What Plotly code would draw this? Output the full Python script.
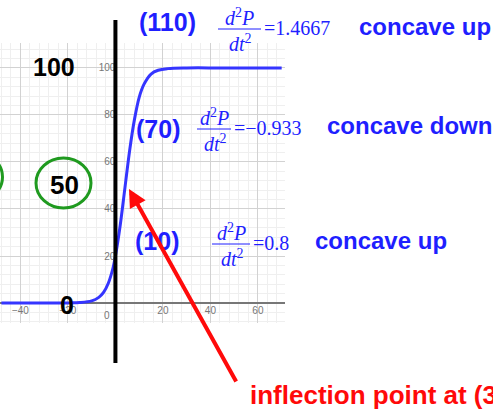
import plotly.graph_objects as go

# Logistic population curve P(t), values read at sample times
t_days = [-48, -30, -20, -15, -10, -7, -5, -3, -1, 0, 2, 4, 6, 8, 10, 12, 15, 18, 22, 30, 45, 70]
population = [0, 0, 0.05, 0.2, 0.9, 2.4, 4.5, 8.4, 15, 20, 33, 49, 65, 78, 87.5, 93, 97.4, 99, 99.7, 100, 100, 100]

x_ticks = [-40, -20, 20, 40, 60]
y_ticks = [20, 40, 60, 80, 100]

# P values examined and their second derivatives
p_levels = ["(110)", "(70)", "(10)"]
second_deriv = ["1.4667", "\u22120.933", "0.8"]
concavity = ["concave up", "concave down", "concave up"]

X_RANGE = [-48.6, 71.4]
Y_RANGE = [-8.5, 110.6]

W, H = 493, 413
L, R, T, B = 0, 285, 43, 323

BLUE = "#1f1fff"
CURVE = "#3535ff"
RED = "#ff0a0a"
GREEN = "#1f9a1f"


def paper(x, y):
    """Figure pixel position -> paper coordinates."""
    return (x - L) / (R - L), (B - y) / (B - T)


fig = go.Figure()
fig.add_trace(go.Scatter(
    x=t_days, y=population, mode="lines", line_shape="spline",
    line=dict(color=CURVE, width=3), hoverinfo="skip", showlegend=False,
))

x0_paper = (0 - X_RANGE[0]) / (X_RANGE[1] - X_RANGE[0])
y0_paper = (0 - Y_RANGE[0]) / (Y_RANGE[1] - Y_RANGE[0])

fig.update_layout(
    width=W, height=H,
    margin=dict(l=L, r=W - R, t=T, b=H - B, pad=0),
    paper_bgcolor="white", plot_bgcolor="white",
    xaxis=dict(
        range=X_RANGE, tickvals=x_ticks, showgrid=True, gridcolor="#d2d2d2", gridwidth=1,
        minor=dict(dtick=4, showgrid=True, gridcolor="#efefef", gridwidth=1),
        zeroline=False, showline=False, anchor="free", position=y0_paper,
        tickfont=dict(family="Liberation Sans", size=10, color="#777"), ticks="",
    ),
    yaxis=dict(
        range=Y_RANGE, tickvals=y_ticks, showgrid=True, gridcolor="#d2d2d2", gridwidth=1,
        minor=dict(dtick=4, showgrid=True, gridcolor="#efefef", gridwidth=1),
        zeroline=True, zerolinecolor="#777", zerolinewidth=1.5,
        showline=False, anchor="free", position=x0_paper,
        tickfont=dict(family="Liberation Sans", size=10, color="#777"), ticks="",
    ),
)

annotations = []
shapes = []


def text(s, x, y, size, color, family="Liberation Sans", xanchor="center"):
    px, py = paper(x, y)
    annotations.append(dict(
        text=s, x=px, y=py, xref="paper", yref="paper", showarrow=False,
        xanchor=xanchor, yanchor="middle", font=dict(family=family, size=size, color=color),
    ))


# origin label
text("0", 107, 315, 10, "#777")

# thick vertical axis
shapes.append(dict(type="line", xref="paper", yref="paper",
                   x0=x0_paper, x1=x0_paper, y0=paper(0, 20)[1], y1=paper(0, 363)[1],
                   line=dict(color="black", width=4)))

# labels on the left
text("<b>100</b>", 54, 67, 25, "black")
text("<b>0</b>", 67, 305, 25, "black")
text("<b>50</b>", 64, 185, 26, "black")
for (cx, cy) in [(63.5, 183), (-25, 177)]:
    a = paper(cx - 27.5, cy - 25)
    b = paper(cx + 27.5, cy + 25)
    shapes.append(dict(type="circle", xref="paper", yref="paper",
                       x0=a[0], y0=b[1], x1=b[0], y1=a[1],
                       line=dict(color=GREEN, width=3)))

# derivative annotations: (label x, label y, fraction left, fraction right, bar y, value x, concave x)
rows = [
    (167, 22, 218, 261, 29, 262, 357),
    (158, 129, 197, 231, 129, 232, 325),
    (157, 241, 212, 250, 244, 251, 313),
]
for lvl, val, conc, (lx, ly, fl, fr, by, vx, cx) in zip(p_levels, second_deriv, concavity, rows):
    text(f"<b>{lvl}</b>", lx, ly, 25, BLUE)
    mid = (fl + fr) / 2
    text("<i>d</i><sup>2</sup><i>P</i>", mid, by - 12, 20, BLUE, family="Liberation Serif")
    text("<i>dt</i><sup>2</sup>", mid + 1, by + 14, 20, BLUE, family="Liberation Serif")
    a = paper(fl, by)
    b = paper(fr, by)
    shapes.append(dict(type="line", xref="paper", yref="paper", x0=a[0], x1=b[0], y0=a[1], y1=b[1],
                       line=dict(color=BLUE, width=1)))
    text(f"={val}", vx, by - 1, 20, BLUE, family="Liberation Serif", xanchor="left")
    text(f"<b>{conc}</b>", cx, by - 3, 24, BLUE, xanchor="left")

# arrow to inflection point
hx, hy = paper(129, 189)
annotations.append(dict(
    text="", x=hx, y=hy, xref="paper", yref="paper", showarrow=True,
    ax=237 - 129, ay=383 - 189, axref="pixel", ayref="pixel",
    arrowhead=2, arrowsize=0.9, arrowwidth=4, arrowcolor=RED,
))
text("<b>inflection point at (3ln4, 50)</b>", 248, 395, 26, RED, xanchor="left")

fig.update_layout(annotations=annotations, shapes=shapes)
fig.write_html("out.html")
